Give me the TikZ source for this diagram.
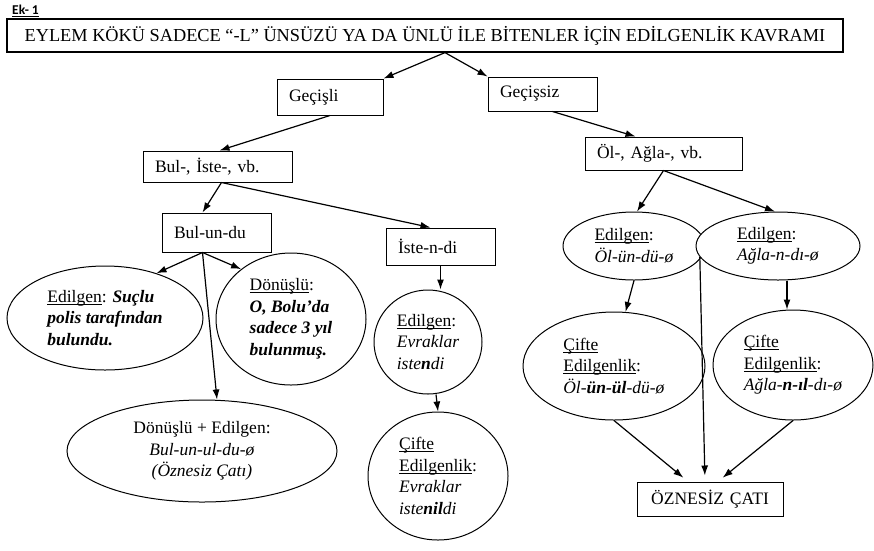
\documentclass[tikz,border=0pt]{standalone}
\usepackage{fontspec}
\setmainfont{Liberation Serif}
\newfontfamily\ekfont{Carlito}
\usetikzlibrary{shapes.geometric,arrows.meta,calc}

\newcommand{\alticizili}[1]{\underline{\smash{#1}}\vphantom{#1}}

\begin{document}
\begin{tikzpicture}[x=1pt, y=-1pt,
    % Boxes and ellipses
    title_box/.style={rectangle, draw, fill=white, line width=1.2pt,
                     minimum width=836pt, minimum height=33pt, inner sep=0pt,
                     font=\fontsize{18.3}{22}\selectfont},
    verb_box/.style={rectangle, draw, fill=white, line width=1pt,
                    inner xsep=12pt, inner ysep=0pt, align=left,
                    font=\fontsize{17.5}{21.5}\selectfont},
    voice_ellipse/.style={ellipse, draw, fill=white, line width=1pt,
                         inner sep=0pt, align=left,
                         font=\fontsize{17.5}{21.5}\selectfont},
    voice_arrow/.style={-{Latex[length=10pt,width=7pt]}, line width=1.2pt}
]

\fill[white] (0,0) rectangle (874,550);
\useasboundingbox (0,0) rectangle (874,550);

% Header and title
\node[font=\ekfont\bfseries\fontsize{13.5}{15}\selectfont, anchor=west, inner sep=0pt] (ek) at (12,11) {\alticizili{Ek- 1}};
\node[title_box] (title) at (425,35.5) {EYLEM KÖKÜ SADECE “-L” ÜNSÜZÜ YA DA ÜNLÜ İLE BİTENLER İÇİN EDİLGENLİK KAVRAMI};

% Verb groups
\node[verb_box, text width=82pt, minimum height=36pt] (gecisli) at (330,97) {Geçişli};
\node[verb_box, text width=85pt, minimum height=34pt] (gecissiz) at (542.5,94) {Geçişsiz};
\node[verb_box, text width=125pt, minimum height=31pt] (bul) at (217.5,166.5) {Bul-, İste-, vb.};
\node[verb_box, text width=133pt, minimum height=33pt] (ol) at (663.5,153.5) {Öl-, Ağla-, vb.};
\node[verb_box, text width=85pt, minimum height=39pt] (bulundu) at (216.5,232.5) {Bul-un-du};
\node[verb_box, text width=85pt, minimum height=37pt] (isten) at (440.5,246.5) {İste-n-di};
\node[verb_box, align=center, text width=122pt, minimum height=34pt] (oznesiz) at (710,499) {ÖZNESİZ ÇATI};

% Left branch: Bul-un-du
\node[voice_ellipse, minimum width=196pt, minimum height=104pt] (edil1) at (105,318)
    {\alticizili{Edilgen}: \textbf{\textit{Suçlu}}\\\textbf{\textit{polis tarafından}}\\\textbf{\textit{bulundu.}}};
\node[voice_ellipse, minimum width=150pt, minimum height=132pt] (donus) at (291,319)
    {\alticizili{Dönüşlü}:\\\textbf{\textit{O, Bolu’da}}\\\textbf{\textit{sadece 3 yıl}}\\\textbf{\textit{bulunmuş.}}};
\node[voice_ellipse, align=center, minimum width=270pt, minimum height=102pt] (donedil) at (202,451)
    {Dönüşlü + Edilgen:\\\textit{Bul-un-ul-du-ø}\\\textit{(Öznesiz Çatı)}};

% Middle branch: İste-n-di
\node[voice_ellipse, minimum width=108pt, minimum height=104pt] (edil2) at (428,342)
    {\alticizili{Edilgen}:\\\textit{Evraklar}\\\textit{iste\textbf{n}di}};
\node[voice_ellipse, minimum width=140pt, minimum height=128pt] (cifte1) at (438,476)
    {\alticizili{Çifte}\\\alticizili{Edilgenlik}:\\\textit{Evraklar}\\\textit{iste\textbf{nil}di}};

% Right branch: Öl-, Ağla-
\node[voice_ellipse, minimum width=142pt, minimum height=68pt] (oledil) at (634,246)
    {\alticizili{Edilgen}:\\\textit{Öl-ün-dü-ø}};
\node[voice_ellipse, minimum width=164pt, minimum height=68pt] (agledil) at (778,246)
    {\alticizili{Edilgen}:\\\textit{Ağla-n-dı-ø}};
\node[voice_ellipse, minimum width=182pt, minimum height=108pt] (cifteol) at (614,366)
    {\alticizili{Çifte}\\\alticizili{Edilgenlik}:\\\textit{Öl-\textbf{ün-ül}-dü-ø}};
\node[voice_ellipse, minimum width=160pt, minimum height=110pt] (cifteag) at (793,365)
    {\alticizili{Çifte}\\\alticizili{Edilgenlik}:\\\textit{Ağla-\textbf{n-ıl}-dı-ø}};

% Arrows
\draw[voice_arrow] ([xshift=20pt]title.south) -- (gecisli.north east);
\draw[voice_arrow] ([xshift=20pt]title.south) -- (gecissiz.north west);
\draw[voice_arrow] (gecisli.south) -- ([xshift=2pt]bul.north);
\draw[voice_arrow] ([xshift=10pt]gecissiz.south) -- ([xshift=-28pt]ol.north);

\draw[voice_arrow] ([xshift=4pt]bul.south) -- ([xshift=-14pt]bulundu.north);
\draw[voice_arrow] ([xshift=4pt]bul.south) -- ([xshift=-10pt]isten.north);
\draw[voice_arrow] ([xshift=-14pt]bulundu.south) -- (edil1.41);
\draw[voice_arrow] ([xshift=-14pt]bulundu.south) -- (donus.135);
\draw[voice_arrow] ([xshift=-14pt]bulundu.south) -- ([xshift=15pt]donedil.north);

\draw[voice_arrow] (isten.south) -- (isten.south |- edil2.north);
\draw[voice_arrow] ([xshift=8pt]edil2.south) -- (cifte1.north);

\draw[voice_arrow] (ol.south) -- (oledil.85);
\draw[voice_arrow] (ol.south) -- (agledil.95);
\draw[voice_arrow] (oledil.south) -- (cifteol.78);
\draw[voice_arrow] ([xshift=9pt]agledil.south) -- ([xshift=-6pt]cifteag.north);

\draw[voice_arrow, shorten >=6pt] (agledil.188) -- ([xshift=-5pt]oznesiz.north);
\draw[voice_arrow, shorten >=6pt] (cifteol.south) -- ([xshift=-22pt]oznesiz.north);
\draw[voice_arrow, shorten >=6pt] (cifteag.south) -- ([xshift=8pt]oznesiz.north);

\end{tikzpicture}
\end{document}
